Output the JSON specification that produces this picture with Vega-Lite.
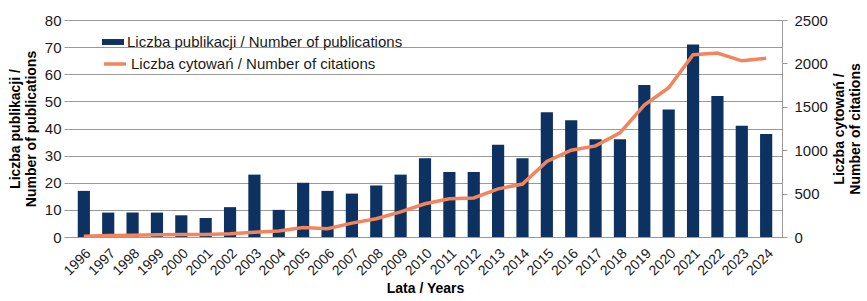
{
  "$schema": "https://vega.github.io/schema/vega-lite/v6.json",
  "width": 714,
  "height": 217,
  "autosize": {"type": "none"},
  "padding": {"left": 68, "top": 20, "right": 85, "bottom": 64},
  "background": "white",
  "config": {
    "font": "Liberation Sans",
    "view": {"stroke": null},
    "axis": {"labelFont": "Liberation Sans", "titleFont": "Liberation Sans", "labelColor": "#1a1a1a", "titleColor": "#000000"}
  },
  "data": {"values": [
    {"year": "1996", "pub": 17, "cit": 10},
    {"year": "1997", "pub": 9, "cit": 18},
    {"year": "1998", "pub": 9, "cit": 20},
    {"year": "1999", "pub": 9, "cit": 25},
    {"year": "2000", "pub": 8, "cit": 28},
    {"year": "2001", "pub": 7, "cit": 30},
    {"year": "2002", "pub": 11, "cit": 38},
    {"year": "2003", "pub": 23, "cit": 55},
    {"year": "2004", "pub": 10, "cit": 70},
    {"year": "2005", "pub": 20, "cit": 110},
    {"year": "2006", "pub": 17, "cit": 95},
    {"year": "2007", "pub": 16, "cit": 160},
    {"year": "2008", "pub": 19, "cit": 210},
    {"year": "2009", "pub": 23, "cit": 290},
    {"year": "2010", "pub": 29, "cit": 383},
    {"year": "2011", "pub": 24, "cit": 440},
    {"year": "2012", "pub": 24, "cit": 450},
    {"year": "2013", "pub": 34, "cit": 555},
    {"year": "2014", "pub": 29, "cit": 610},
    {"year": "2015", "pub": 46, "cit": 870},
    {"year": "2016", "pub": 43, "cit": 1000},
    {"year": "2017", "pub": 36, "cit": 1050},
    {"year": "2018", "pub": 36, "cit": 1200},
    {"year": "2019", "pub": 56, "cit": 1520},
    {"year": "2020", "pub": 47, "cit": 1720},
    {"year": "2021", "pub": 71, "cit": 2100},
    {"year": "2022", "pub": 52, "cit": 2120},
    {"year": "2023", "pub": 41, "cit": 2030},
    {"year": "2024", "pub": 38, "cit": 2060}
  ]},
  "encoding": {
    "x": {
      "field": "year", "type": "ordinal",
      "scale": {"paddingInner": 0.5, "paddingOuter": 0.4},
      "axis": {
        "title": "Lata / Years", "titleFontSize": 14, "titleFontWeight": "bold", "titlePadding": 4,
        "labelAngle": -45, "labelFontSize": 14, "labelPadding": 9,
        "ticks": false, "domain": true, "domainColor": "#999999", "grid": false
      }
    }
  },
  "layer": [
    {
      "mark": {"type": "bar"},
      "encoding": {
        "y": {
          "field": "pub", "type": "quantitative",
          "scale": {"domain": [0, 80]},
          "axis": {
            "title": ["Liczba publikacji /", "Number of publications"],
            "titleFontSize": 14, "titleFontWeight": "bold", "titlePadding": 6, "titleLineHeight": 16,
            "values": [0, 10, 20, 30, 40, 50, 60, 70, 80],
            "labelFontSize": 15, "labelPadding": 3,
            "tickSize": 4, "tickColor": "#999999",
            "domain": false,
            "grid": true, "gridColor": "#999999", "gridWidth": 1
          }
        },
        "fill": {
          "datum": "Liczba publikacji / Number of publications",
          "scale": {"range": ["#0d3262"]},
          "legend": {
            "title": null, "orient": "none", "legendX": 34, "legendY": 11,
            "labelFontSize": 15, "labelColor": "#1a1a1a", "labelOffset": 3, "labelLimit": 0,
            "symbolType": "M-1,-0.27H1V0.27H-1Z", "symbolSize": 484, "symbolStrokeWidth": 0
          }
        }
      }
    },
    {
      "mark": {"type": "line", "strokeWidth": 3.5},
      "encoding": {
        "y": {
          "field": "cit", "type": "quantitative",
          "scale": {"domain": [0, 2500]},
          "axis": {
            "orient": "right",
            "title": ["Liczba cytowań /", "Number of citations"],
            "titleAngle": 270,
            "titleFontSize": 14, "titleFontWeight": "bold", "titlePadding": 3, "titleLineHeight": 16,
            "values": [0, 500, 1000, 1500, 2000, 2500], "format": "d",
            "labelFontSize": 15, "labelPadding": 7,
            "tickSize": 5, "tickColor": "#999999",
            "domain": true, "domainColor": "#999999",
            "grid": false
          }
        },
        "stroke": {
          "datum": "Liczba cytowań / Number of citations",
          "scale": {"range": ["#f4845c"]},
          "legend": {
            "title": null, "orient": "none", "legendX": 34, "legendY": 31,
            "labelFontSize": 15, "labelColor": "#1a1a1a", "labelOffset": 3, "labelLimit": 0,
            "symbolType": "stroke", "symbolSize": 484, "symbolStrokeWidth": 3.5
          }
        }
      }
    }
  ],
  "resolve": {"scale": {"y": "independent"}}
}
